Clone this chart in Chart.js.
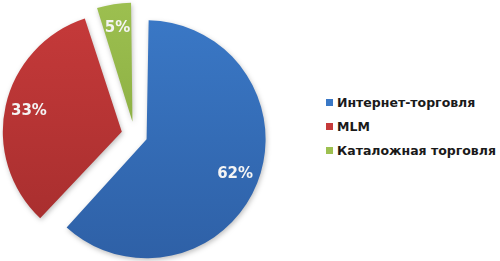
<!DOCTYPE html>
<html>
<head>
<meta charset="utf-8">
<script src="https://cdn.jsdelivr.net/npm/chart.js@4"></script>
<style>
  html, body { margin: 0; padding: 0; background: #fff; }
  #wrap { position: relative; width: 500px; height: 261px; overflow: hidden; }
  #pie { position: absolute; left: 0; top: 0; }
  #legend { position: absolute; left: 326px; top: 95px; font: bold 12.5px "DejaVu Sans", Verdana, sans-serif; color: #1a1a1a; }
  #legend div { height: 24px; line-height: 16px; white-space: nowrap; }
  #legend span { display: inline-block; width: 7px; height: 7px; margin-right: 4px; vertical-align: 1px; }
</style>
</head>
<body>
<div id="wrap">
  <canvas id="pie" width="280" height="261"></canvas>
  <div id="legend"></div>
</div>
<script>
const labels = ['Интернет-торговля', 'MLM', 'Каталожная торговля'];
const values = [62, 33, 5];
const colors = ['#3a78c6', '#c63a3a', '#9dc050'];
const darks = ['#2e60a6', '#a42d2d', '#80a33a'];

const pieRadius = 119;
const explode = 52; // Chart.js сдвигает сектор на offset / 4

// легенда
var legend = document.getElementById('legend');
labels.forEach(function (name, i) {
    legend.innerHTML += '<div><span style="background:' + colors[i] + '"></span>' + name + '</div>';
});

function gradient(context) {
    var chart = context.chart;
    var area = chart.chartArea;
    if (!area) {
        return colors[context.dataIndex];
    }
    var g = chart.ctx.createLinearGradient(0, area.top, 0, area.bottom);
    g.addColorStop(0, colors[context.dataIndex]);
    g.addColorStop(1, darks[context.dataIndex]);
    return g;
}

// при offset Chart.js ещё и увеличивает радиус сектора - убираем это,
// чтобы все секторы были одного размера
const sameRadius = {
    id: 'sameRadius',
    beforeDatasetsDraw: function (chart) {
        chart.getDatasetMeta(0).data.forEach(function (arc) {
            var t = arc.options.offset / 4;
            var fix = 1 - Math.sin(Math.min(Math.PI, arc.circumference));
            arc.outerRadius = pieRadius - t * fix;
        });
    }
};

// подписи процентов на секторах
const percentLabels = {
    id: 'percentLabels',
    afterDatasetsDraw: function (chart) {
        var ctx = chart.ctx;
        var meta = chart.getDatasetMeta(0);
        ctx.save();
        ctx.font = 'bold 15px "DejaVu Sans", Verdana, sans-serif';
        ctx.fillStyle = '#f4f4f4';
        ctx.textAlign = 'center';
        ctx.textBaseline = 'middle';
        meta.data.forEach(function (arc, i) {
            var mid = (arc.startAngle + arc.endAngle) / 2;
            var r = arc.options.offset / 4 + pieRadius * 0.8;
            ctx.fillText(values[i] + '%', arc.x + Math.cos(mid) * r, arc.y + Math.sin(mid) * r);
        });
        ctx.restore();
    }
};

const shadow = {
    id: 'shadow',
    beforeDatasetsDraw: function (chart) {
        var ctx = chart.ctx;
        ctx.save();
        ctx.shadowColor = 'rgba(0,0,0,0.25)';
        ctx.shadowBlur = 5;
        ctx.shadowOffsetX = 1;
        ctx.shadowOffsetY = 2;
    },
    afterDatasetsDraw: function (chart) {
        chart.ctx.restore();
    }
};

new Chart(document.getElementById('pie'), {
    type: 'pie',
    data: {
        labels: labels,
        datasets: [{
                data: values,
                backgroundColor: gradient,
                borderWidth: 0,
                offset: explode
            }]
    },
    options: {
        responsive: false,
        animation: false,
        radius: pieRadius,
        layout: {
            padding: {left: 10, right: 21, top: 10, bottom: 2}
        },
        plugins: {
            legend: {display: false},
            tooltip: {enabled: false}
        }
    },
    plugins: [sameRadius, shadow, percentLabels]
});
</script>
</body>
</html>
